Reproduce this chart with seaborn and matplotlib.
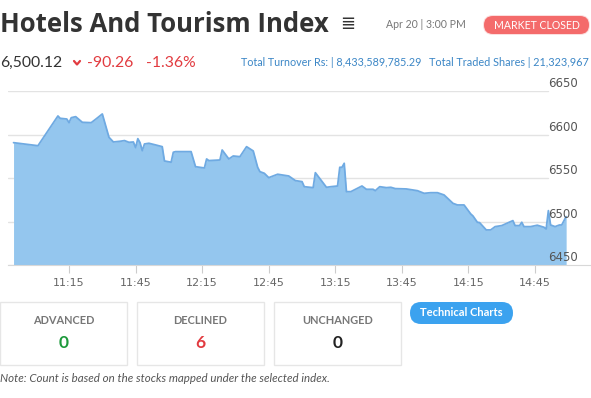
import matplotlib
matplotlib.use("Agg")
import matplotlib.pyplot as plt
import matplotlib.dates as mdates
from matplotlib.patches import FancyBboxPatch, Rectangle
import pandas as pd
import seaborn as sns

# ---------------- data ----------------
times = ["10:50", "11:01", "11:10", "11:11", "11:14", "11:15", "11:16", "11:18", "11:21", "11:25",
         "11:27", "11:30", "11:33", "11:35", "11:38", "11:40", "11:42", "11:44", "11:45", "11:46",
         "11:47", "11:48", "11:49", "11:51", "11:54", "11:57", "11:58", "12:01", "12:02", "12:03",
         "12:10", "12:12", "12:16", "12:17", "12:18", "12:23", "12:24", "12:27", "12:29", "12:32",
         "12:35", "12:38", "12:40", "12:41", "12:43", "12:45", "12:49", "12:54", "12:57", "13:00",
         "13:01", "13:05", "13:06", "13:11", "13:13", "13:16", "13:17", "13:18", "13:19", "13:20",
         "13:22", "13:27", "13:29", "13:32", "13:33", "13:35", "13:38", "13:40", "13:42", "13:47",
         "13:52", "13:55", "13:58", "14:01", "14:04", "14:08", "14:10", "14:13", "14:16", "14:17",
         "14:19", "14:20", "14:23", "14:25", "14:27", "14:30", "14:35", "14:36", "14:38", "14:39",
         "14:40", "14:43", "14:46", "14:49", "14:50", "14:51", "14:52", "14:54", "14:56", "14:57",
         "14:59"]
values = [6590.6, 6587.1, 6621.3, 6618.6, 6617.8, 6613.6, 6619.3, 6620.5, 6614.0, 6613.6,
          6617.5, 6623.6, 6596.8, 6591.4, 6592.2, 6593.0, 6591.0, 6591.4, 6584.9, 6595.2,
          6590.6, 6581.4, 6589.1, 6589.9, 6588.0, 6586.0, 6569.6, 6568.1, 6579.6, 6580.3,
          6580.3, 6563.0, 6561.5, 6571.9, 6570.0, 6570.7, 6582.2, 6571.9, 6575.3, 6574.5,
          6586.0, 6581.1, 6562.3, 6557.3, 6555.4, 6550.4, 6554.3, 6552.3, 6547.0, 6545.8,
          6540.0, 6538.9, 6556.1, 6539.3, 6540.0, 6540.8, 6562.3, 6562.3, 6566.9, 6534.3,
          6534.3, 6540.8, 6537.0, 6537.0, 6535.4, 6540.0, 6538.9, 6539.3, 6537.8, 6537.4,
          6535.4, 6532.4, 6533.1, 6533.1, 6530.5, 6520.9, 6519.0, 6519.0, 6508.7, 6506.4,
          6499.1, 6498.7, 6490.3, 6490.3, 6494.1, 6495.3, 6501.0, 6495.3, 6495.3, 6499.1,
          6494.1, 6494.1, 6495.7, 6493.4, 6491.4, 6512.5, 6496.0, 6494.1, 6496.0, 6496.0,
          6505.6]
assert len(times) == len(values)

x_tick_labels = ["11:15", "11:45", "12:15", "12:45", "13:15", "13:45", "14:15", "14:45"]
y_ticks = [6450, 6500, 6550, 6600, 6650]

title = "Hotels And Tourism Index"
date_text = "Apr 20 | 3:00 PM"
status_text = "MARKET CLOSED"
index_value = "6,500.12"
change_value = "-90.26"
change_pct = "-1.36%"
turnover_text = "Total Turnover Rs: | 8,433,589,785.29"
shares_text = "Total Traded Shares | 21,323,967"
box_labels = ["ADVANCED", "DECLINED", "UNCHANGED"]
box_values = ["0", "6", "0"]
note_text = "Note: Count is based on the stocks mapped under the selected index."
button_text = "Technical Charts"

DAY = "2024-04-20 "
df = pd.DataFrame({"time": pd.to_datetime([DAY + t for t in times]), "value": values})

# ---------------- figure ----------------
sns.set_theme(style="white")
plt.rcParams["font.family"] = ["Lato", "DejaVu Sans"]

W, H = 591, 398
fig = plt.figure(figsize=(W / 100, H / 100), dpi=100)
fig.patch.set_facecolor("white")

# chart axes: pixels x 8..591, y 91..265
ax = fig.add_axes([8 / W, (H - 265) / H, 583 / W, 174 / H])
ax.set_facecolor("none")
FILL = "#94c6ee"
LINE = "#6faae2"
ax.fill_between(df["time"], df["value"], 6450, color=FILL, lw=0, zorder=2)
sns.lineplot(data=df, x="time", y="value", estimator=None, color=LINE, lw=1.3, ax=ax, zorder=3)

ax.set_xlim(pd.Timestamp(DAY + "10:47:30"), pd.Timestamp(DAY + "15:10:12"))
ax.set_ylim(6450, 6650)
grid_frac = (548 - 8) / 583
for v in y_ticks:
    ax.axhline(v, xmin=0, xmax=grid_frac, color="#e3e3e3", lw=1, zorder=1)
    ax.text((578 - 8) / 583, v + 1.0, str(v), transform=ax.get_yaxis_transform(),
            ha="right", va="bottom", fontsize=8.5, color="#555555",
            family="DejaVu Sans", zorder=4)
ax.set_yticks([])
ax.set_xticks(pd.to_datetime([DAY + t for t in x_tick_labels]))
ax.xaxis.set_major_formatter(mdates.DateFormatter("%H:%M"))
ax.tick_params(axis="x", length=6, width=0.8, color="#cccccc", labelcolor="#666666",
               labelsize=8, pad=3, bottom=True)
for lab in ax.get_xticklabels():
    lab.set_family("DejaVu Sans")
for s in ["top", "right", "left"]:
    ax.spines[s].set_visible(False)
ax.spines["bottom"].set_color("#d8d8d8")
ax.spines["bottom"].set_linewidth(0.8)
ax.set_xlabel("")
ax.set_ylabel("")

# overlay axes in pixel coordinates
ov = fig.add_axes([0, 0, 1, 1], zorder=10)
ov.set_xlim(0, W)
ov.set_ylim(H, 0)
ov.axis("off")
ov.patch.set_alpha(0)

ov.text(0, 25, title, fontsize=18.5, fontweight="bold", color="#333333",
        family="Open Sans", ha="left", va="center")
ov.text(348, 24, "\u2263", fontsize=13, color="#333333", family="DejaVu Sans",
        ha="center", va="center")
ov.text(386, 25, date_text, fontsize=7.6, color="#777777", ha="left", va="center")

# market closed pill (with soft glow)
ov.add_patch(FancyBboxPatch((483, 15), 107, 20, boxstyle="round,pad=0,rounding_size=10",
                            facecolor="#fbd0d0", edgecolor="none", alpha=0.7))
ov.add_patch(FancyBboxPatch((484, 16), 105, 18, boxstyle="round,pad=0,rounding_size=9",
                            facecolor="#f46b6b", edgecolor="none"))
ov.text(536.5, 25.5, status_text, fontsize=7.6, color="white", ha="center", va="center")

# second row
ov.text(0, 63, index_value, fontsize=11.3, color="#333333", ha="left", va="center")
ov.plot([74, 77, 80], [61, 64.5, 61], color="#e23b40", lw=1.6, solid_capstyle="round")
ov.text(87, 63, change_value, fontsize=11.3, color="#e23b40", ha="left", va="center")
ov.text(146, 63, change_pct, fontsize=11.3, color="#e23b40", ha="left", va="center")
ov.text(241, 63, turnover_text, fontsize=7.75, color="#3b86c6", ha="left", va="center")
ov.text(429, 63, shares_text, fontsize=7.85, color="#3b86c6", ha="left", va="center")

# summary boxes
box_x = [0, 137, 274]
val_colors = ["#1e9a3c", "#e23b40", "#222222"]
for bx, lab, val, col in zip(box_x, box_labels, box_values, val_colors):
    ov.add_patch(Rectangle((bx, 302), 127, 63, facecolor="white", edgecolor="#e6e6e6", lw=1))
    ov.text(bx + 63.5, 321, lab, fontsize=7.9, fontweight="bold", color="#777777",
            ha="center", va="center")
    ov.text(bx + 63.5, 342.5, val, fontsize=12.5, fontweight="bold", color=col,
            ha="center", va="center")

# technical charts button
ov.add_patch(FancyBboxPatch((410, 302), 103, 22, boxstyle="round,pad=0,rounding_size=11",
                            facecolor="#3ba2ef", edgecolor="none"))
ov.text(461.5, 313, button_text, fontsize=8.0, fontweight="bold", color="white",
        ha="center", va="center")

ov.text(0, 378, note_text, fontsize=8.3, style="italic", color="#555555", ha="left", va="center")

fig.savefig("out.png", dpi=100, facecolor="white")
